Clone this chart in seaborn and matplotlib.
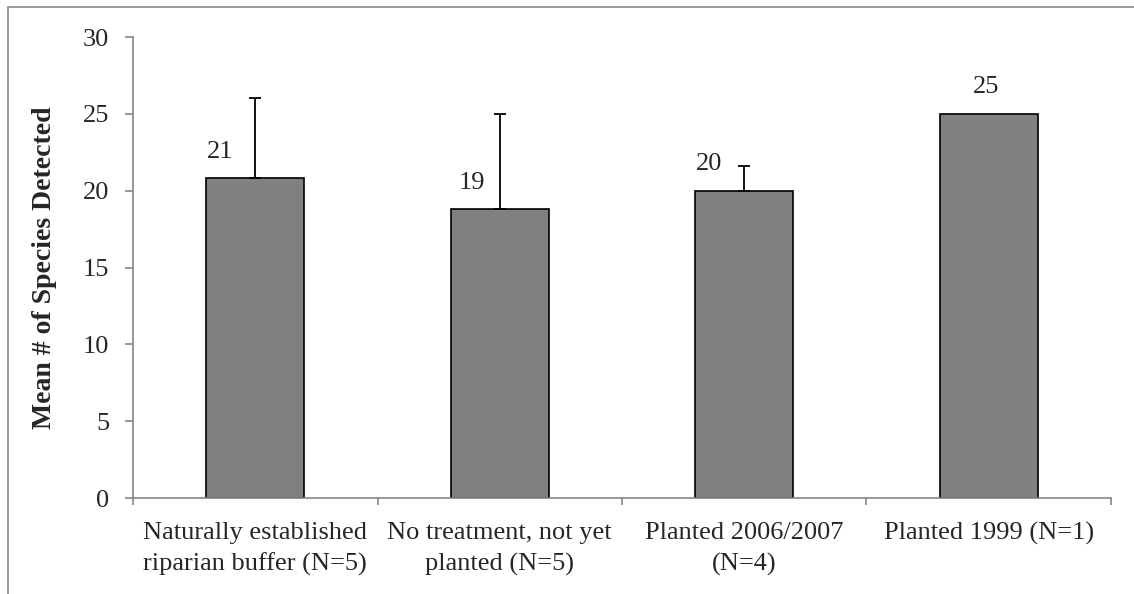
import numpy as np
import pandas as pd
import matplotlib
matplotlib.use('Agg')
import matplotlib.pyplot as plt
from matplotlib.patches import Rectangle
from matplotlib.ticker import FixedLocator
import seaborn as sns

# values
categories = ['Naturally established\nriparian buffer (N=5)',
              'No treatment, not yet\nplanted (N=5)',
              'Planted 2006/2007\n(N=4)',
              'Planted 1999 (N=1)']
means = [20.8, 18.8, 20.0, 25.0]
err_upper = [5.2, 6.2, 1.6, 0.0]
bar_labels = ['21', '19', '20', '25']
label_dx = [-35, -28, -35, -3]   # label offsets in pixels, as in the reference
yticks = [0, 5, 10, 15, 20, 25, 30]

df = pd.DataFrame({'group': categories, 'mean': means})

sns.set_style('white')
plt.rcParams['font.family'] = ['Liberation Serif', 'DejaVu Serif']
plt.rcParams['font.size'] = 19

fig = plt.figure(figsize=(11.34, 5.94), dpi=100)
ax = fig.add_axes([0.1173, 0.1616, 0.8624, 0.7761])

sns.barplot(data=df, x='group', y='mean', color='#808080', saturation=1,
            edgecolor='black', linewidth=1.2, width=0.4, errorbar=None, ax=ax)

xpos = np.arange(len(categories))
# single-site group has no error bar
has_err = np.array(err_upper) > 0
ax.errorbar(xpos[has_err], np.array(means)[has_err],
            yerr=[np.zeros(has_err.sum()), np.array(err_upper)[has_err]], fmt='none',
            ecolor='black', elinewidth=1.3, capsize=4.5, capthick=1.3)
for i, m in enumerate(means):
    ax.annotate(bar_labels[i], (xpos[i], m), xytext=(label_dx[i] * 0.72, 19),
                textcoords='offset points', ha='center', va='center', fontsize=19)

ax.set_xlim(-0.5, len(categories) - 0.5)
ax.set_ylim(0, 30)
ax.set_yticks(yticks)
ax.set_xlabel('')
ax.set_ylabel('Mean # of Species Detected', fontweight='bold', fontsize=20)
ax.yaxis.set_label_coords(-0.0777, 0.5)

ax.xaxis.set_minor_locator(FixedLocator(np.arange(-0.5, len(categories), 1.0)))
ax.tick_params(axis='x', which='major', length=0, pad=17, labelsize=19)
ax.tick_params(axis='x', which='minor', length=5, width=1.2, color='#868686', direction='out', bottom=True)
ax.tick_params(axis='y', length=6, width=1.2, color='#868686', pad=11, labelsize=19, left=True)
for t in ax.get_xticklabels():
    t.set_multialignment('center')
    t.set_linespacing(1.5)

for s in ['top', 'right']:
    ax.spines[s].set_visible(False)
for s in ['left', 'bottom']:
    ax.spines[s].set_color('#868686')
    ax.spines[s].set_linewidth(1.2)

# outer chart-area frame (cropped at right and bottom in the reference)
fig.patches.append(Rectangle((8 / 1134, -0.2), 1.2, 1.2 - 7 / 594,
                             transform=fig.transFigure, fill=False,
                             edgecolor='#868686', linewidth=1.2))

fig.savefig('out.png', dpi=100)
